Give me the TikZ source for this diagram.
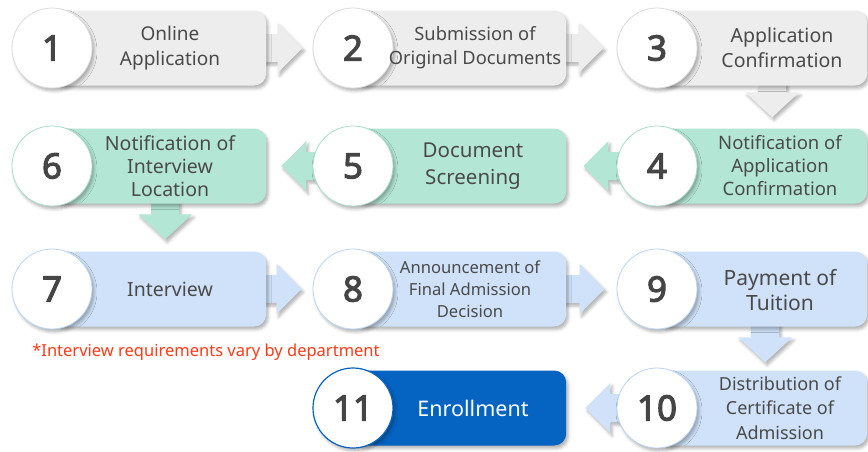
\documentclass[tikz,border=0pt]{standalone}
\usepackage{fontspec}
\setmainfont{Noto Sans}
\newfontfamily\numfont{Noto Sans}[FakeBold=3]
\usetikzlibrary{shadows.blur,calc}
\definecolor{gbox}{HTML}{EDEDED}
\definecolor{gline}{HTML}{DCDCDC}
\definecolor{mbox}{HTML}{B4E6D5}
\definecolor{mline}{HTML}{A8DDCA}
\definecolor{bbox}{HTML}{CFE2F9}
\definecolor{bline}{HTML}{BBD4F2}
\definecolor{dbox}{HTML}{0563C1}
\definecolor{txtc}{HTML}{4A4A4A}
\definecolor{numcol}{HTML}{454545}
\definecolor{redt}{HTML}{FF3A17}
\pgfdeclarelayer{bg}
\pgfsetlayers{bg,main}
\newcommand\rightarr[2]{\fill[barr=#2] (#1) -- +(-25,-25) -- +(-25,-14) -- +(-45,-14) -- +(-45,14) -- +(-25,14) -- +(-25,25) -- cycle;}
\newcommand\leftarr[2]{\fill[barr=#2] (#1) -- +(25,-25) -- +(25,-14) -- +(45,-14) -- +(45,14) -- +(25,14) -- +(25,25) -- cycle;}
\newcommand\downarr[2]{\fill[barr=#2] (#1) -- +(27,-25) -- +(14,-25) -- +(14,-45) -- +(-14,-45) -- +(-14,-25) -- +(-27,-25) -- cycle;}
\begin{document}
\begin{tikzpicture}[x=1pt,y=-1pt,
 shad/.style={blur shadow={shadow xshift=2pt, shadow yshift=-3pt, shadow blur radius=3pt, shadow opacity=30}},
 box/.style={rectangle, rounded corners=12pt, minimum height=75pt, anchor=west, fill=#1, shad, inner sep=0pt},
 numbox/.style={circle, minimum size=80pt, fill=white, draw=#1, line width=0.8pt, shad, font=\numfont\fontsize{35}{35}\selectfont, text=numcol, inner sep=0pt},
 lab/.style={align=center, text=txtc, inner sep=0pt},
 barr/.style={fill=#1, shad}]
\useasboundingbox (0,0) rectangle (868,451);
% boxes
\node[box=gbox, minimum width=214pt] (b1) at (52,48) {};
\node[box=gbox, minimum width=213pt] (b2) at (353,48) {};
\node[box=gbox, minimum width=210pt] (b3) at (657,48) {};
\node[box=mbox, minimum width=214pt] (b6) at (52,166) {};
\node[box=mbox, minimum width=213pt] (b5) at (353,166) {};
\node[box=mbox, minimum width=210pt] (b4) at (657,166) {};
\node[box=bbox, minimum width=214pt] (b7) at (52,289) {};
\node[box=bbox, minimum width=213pt] (b8) at (353,289) {};
\node[box=bbox, minimum width=210pt] (b9) at (657,289) {};
\node[box=dbox, minimum width=213pt] (b11) at (353,408) {};
\node[box=bbox, minimum width=210pt] (b10) at (657,408) {};
% circles
\node[numbox=gline] (n1) at (52,48) {1};
\node[numbox=gline] (n2) at (353,48) {2};
\node[numbox=gline] (n3) at (657,48) {3};
\node[numbox=mline] (n6) at (52,166) {6};
\node[numbox=mline] (n5) at (353,166) {5};
\node[numbox=mline] (n4) at (657,166) {4};
\node[numbox=bline] (n7) at (52,289) {7};
\node[numbox=bline] (n8) at (353,289) {8};
\node[numbox=bline] (n9) at (657,289) {9};
\node[numbox=dbox, line width=1.2pt] (n11) at (353,408) {11};
\node[numbox=bline] (n10) at (657,408) {10};
% labels
\node[lab, font=\fontsize{19}{25}\selectfont] (t1) at (170,48) {Online\\Application};
\node[lab, font=\fontsize{18.3}{24}\selectfont] (t2) at (475,48) {Submission of\\Original Documents};
\node[lab, font=\fontsize{19.5}{25}\selectfont] (t3) at (782,48) {Application\\Confirmation};
\node[lab, font=\fontsize{18.5}{23}\selectfont] (t4) at (780,166) {Notification of\\Application\\Confirmation};
\node[lab, font=\fontsize{20.5}{27}\selectfont] (t5) at (473,166) {Document\\Screening};
\node[lab, font=\fontsize{19.5}{23}\selectfont] (t6) at (170,166) {Notification of\\Interview\\Location};
\node[lab, font=\fontsize{19.5}{24}\selectfont] (t7) at (170,289) {Interview};
\node[lab, font=\fontsize{16.6}{22}\selectfont] (t8) at (470,289) {Announcement of\\Final Admission\\Decision};
\node[lab, font=\fontsize{21}{25}\selectfont] (t9) at (780,290) {Payment of\\Tuition};
\node[lab, font=\fontsize{18}{24.5}\selectfont] (t10) at (780,408) {Distribution of\\Certificate of\\Admission};
\node[lab, text=white, font=\fontsize{21.5}{25}\selectfont] (t11) at (473,408) {Enrollment};
\node[anchor=base, text=redt, inner sep=0pt, font=\fontsize{16.5}{20}\selectfont] (note) at (206,356) {*Interview requirements vary by department};
% arrow tips
\coordinate (a12) at ($(n2.west)+(-10,0)$);
\coordinate (a23) at ($(n3.west)+(-13,0)$);
\coordinate (a34) at ($(b4.north)+(10,-11)$);
\coordinate (a45) at ($(b5.east)+(17,0)$);
\coordinate (a56) at ($(b6.east)+(15,0)$);
\coordinate (a67) at ($(b7.north)+(6,-12)$);
\coordinate (a78) at ($(n8.west)+(-11,0)$);
\coordinate (a89) at ($(n9.west)+(-12,0)$);
\coordinate (a910) at ($(b10.north)+(3,-8)$);
\coordinate (a1011) at ($(b11.east)+(19,0)$);
\begin{pgfonlayer}{bg}
\rightarr{a12}{gbox}
\rightarr{a23}{gbox}
\downarr{a34}{gbox}
\leftarr{a45}{mbox}
\leftarr{a56}{mbox}
\downarr{a67}{mbox}
\rightarr{a78}{bbox}
\rightarr{a89}{bbox}
\downarr{a910}{bbox}
\leftarr{a1011}{bbox}
\end{pgfonlayer}
\end{tikzpicture}
\end{document}
